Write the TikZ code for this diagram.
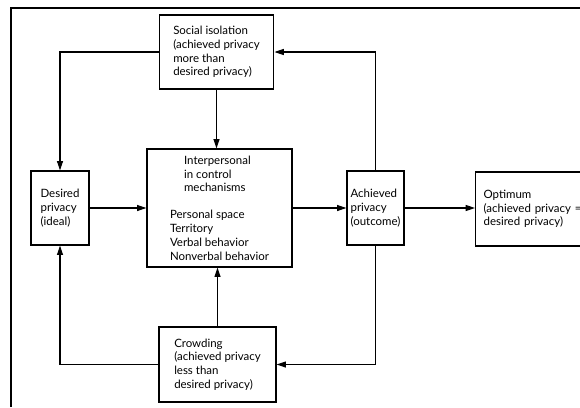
\documentclass[tikz,border=0pt]{standalone}
\usepackage{fontspec}
\setmainfont{Lato}
\usetikzlibrary{arrows.meta,positioning}
\tikzset{
    box/.style={draw, line width=0.9pt, inner sep=0pt, align=left,
        font=\fontsize{8.6}{10.3}\selectfont},
    arr/.style={-{Triangle[length=7pt,width=4.5pt]}, line width=0.8pt},
}

\begin{document}
\begin{tikzpicture}[x=0.75pt,y=-0.75pt]
    \useasboundingbox (0,0) rectangle (580,407);
    \clip (0,0) rectangle (580,407);
    % frame
    \draw [line width=1.8pt] (11,407) -- (11,8) -- (580,8);

    \node [box, minimum width=86pt, minimum height=55.5pt] (social) at (216.5,52)
        {Social isolation\\(achieved privacy\\more than\\desired privacy)};
    \node [box, minimum width=108.75pt, minimum height=88.5pt] (central) at (219.5,208)
        {\hspace*{10.5pt}Interpersonal\\\hspace*{10.5pt}in control\\\hspace*{10.5pt}mechanisms\\[10pt]
         Personal space\\Territory\\Verbal behavior\\Nonverbal behavior};
    \node [box, minimum width=43.5pt, minimum height=55.5pt] (desired) at (60,208)
        {Desired\\privacy\\(ideal)};
    \node [box, minimum width=42.75pt, minimum height=55.5pt] (achieved) at (375.5,208)
        {Achieved\\privacy\\(outcome)};
    \node [box, anchor=west, minimum height=55.5pt, inner xsep=6pt, text width=88pt] (optimum) at (475,209)
        {Optimum\\(achieved privacy =\\desired privacy)};
    \node [box, minimum width=87.75pt, minimum height=56.25pt] (crowding) at (217.5,364.5)
        {Crowding\\(achieved privacy\\less than\\desired privacy)};

    \draw [arr] (desired) -- (central);
    \draw [arr] (central) -- (achieved);
    \draw [arr] (achieved) -- (achieved.east -| optimum.west);
    \draw [arr] (social) -- (social |- central.north);
    \draw [arr] (crowding) -- (crowding |- central.south);
    \draw [arr] (social.west) -| (desired.north);
    \draw [arr] (crowding.west) -| (desired.south);
    \draw [arr] (achieved.north) |- (social.east);
    \draw [arr] (achieved.south) |- (crowding.east);
\end{tikzpicture}
\end{document}
